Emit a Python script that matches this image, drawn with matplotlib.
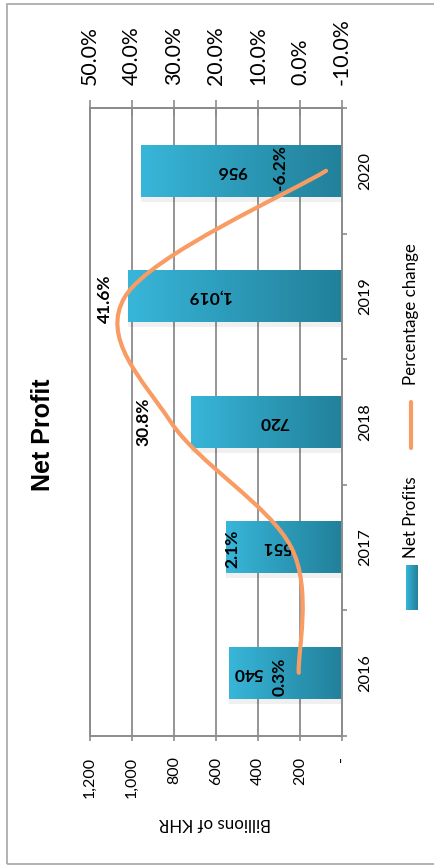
import matplotlib
matplotlib.use("Agg")
import matplotlib.pyplot as plt
import numpy as np
from matplotlib.colors import LinearSegmentedColormap
from matplotlib.path import Path
from matplotlib.patches import PathPatch, Rectangle
from matplotlib.lines import Line2D
from matplotlib.ticker import FixedLocator

plt.rcParams['font.family'] = ['Lato', 'DejaVu Sans']

# Данные
years = ["2016", "2017", "2018", "2019", "2020"]
net_profit = [540, 551, 720, 1019, 956]          # млрд KHR
pct_change = [0.3, 2.1, 30.8, 41.6, -6.2]        # %
value_ticks = [0, 200, 400, 600, 800, 1000, 1200]
value_tick_labels = ["-", "200", "400", "600", "800", "1,000", "1,200"]
pct_ticks = [-10, 0, 10, 20, 30, 40, 50]

# Сдвиги подписей (в пикселях экрана)
bar_label_dx = [-37, -7, 8, -26, -10]
pct_label_off = [(-19, -4), (-59, -2), (-27, 0), (-20, -2), (-46, 3)]

GRID = "#8c8c8c"
ORANGE = "#f89c64"
bar_cmap = LinearSegmentedColormap.from_list("bar", ["#38b6da", "#2c9ab8", "#22809a"])
grad = np.linspace(0, 1, 256).reshape(1, -1)


def smooth_path(xs, ys):
    """Сглаженная линия (кубические Безье по схеме Катмулла-Рома)."""
    pts = np.column_stack([xs, ys])
    ext = np.vstack([pts[0], pts, pts[-1]])
    verts = [pts[0]]
    codes = [Path.MOVETO]
    for i in range(len(pts) - 1):
        p0, p1, p2, p3 = ext[i], ext[i + 1], ext[i + 2], ext[i + 3]
        c1 = p1 + (p2 - p0) / 6
        c2 = p2 - (p3 - p1) / 6
        verts += [c1, c2, p2]
        codes += [Path.CURVE4] * 3
    return Path(verts, codes)


fig = plt.figure(figsize=(4.35, 8.65), dpi=100)
ax = fig.add_axes([0.2069, 0.1497, 0.5793, 0.7254])
ypos = np.arange(len(years))
bar_h = 0.414

# Столбцы с градиентом
for y, v in zip(ypos, net_profit):
    ax.add_patch(Rectangle((v, y - bar_h / 2 - 0.04), -v - 6, bar_h,
                           facecolor="#000000", alpha=0.06, lw=0, zorder=1.5))
    ax.imshow(grad, cmap=bar_cmap, aspect="auto", zorder=2,
              extent=(v, 0, y - bar_h / 2, y + bar_h / 2))

for y, v, dx in zip(ypos, net_profit, bar_label_dx):
    ax.annotate(f"{v:,}", (v / 2, y), xytext=(dx, 0), textcoords="offset pixels",
                rotation=180, ha="center", va="center", fontsize=12.5,
                fontweight="bold", zorder=5)

ax.set_xlim(1200, 0)
ax.set_ylim(-0.5, len(years) - 0.5)

ax.xaxis.set_major_locator(FixedLocator(value_ticks))
ax.set_xticklabels(value_tick_labels, rotation=90, fontsize=11.5)
ax.tick_params(axis="x", direction="out", length=3.6, width=1.2, color=GRID, pad=11.5)
ax.grid(axis="x", color=GRID, lw=1.3, zorder=0)
ax.set_axisbelow(True)

ax.yaxis.tick_right()
ax.set_yticks(ypos)
ax.set_yticklabels(years, rotation=90, fontsize=11.7, va="center")
ax.tick_params(axis="y", which="major", length=0, pad=11.5)
ax.yaxis.set_minor_locator(FixedLocator(np.arange(-0.5, len(years), 1.0)))
ax.tick_params(axis="y", which="minor", direction="out", length=3.6, width=1.2, color=GRID)

for side in ["left", "right", "bottom", "top"]:
    ax.spines[side].set_color(GRID)
    ax.spines[side].set_linewidth(1.4)

# Процентное изменение на второй оси
ax2 = ax.twiny()
ax2.set_xlim(50, -10)
ax2.set_ylim(-0.5, len(years) - 0.5)
ax2.xaxis.set_major_locator(FixedLocator(pct_ticks))
ax2.set_xticklabels([f"{t:.1f}%" for t in pct_ticks], rotation=90, fontsize=15.3)
ax2.tick_params(axis="x", direction="inout", length=11.5, width=1.2, color=GRID, pad=10.8)
for side in ["left", "right", "bottom", "top"]:
    ax2.spines[side].set_visible(False)
ax2.spines["top"].set_visible(True)
ax2.spines["top"].set_color(GRID)
ax2.spines["top"].set_linewidth(1.4)

ax2.add_patch(PathPatch(smooth_path(pct_change, ypos), facecolor="none",
                        edgecolor=ORANGE, lw=3, capstyle="round", zorder=4))

for y, p, (dx, dy) in zip(ypos, pct_change, pct_label_off):
    ax2.annotate(f"{p:.1f}%", (p, y), xytext=(dx, dy), textcoords="offset pixels",
                 rotation=90, ha="center", va="center", fontsize=12.5,
                 fontweight="bold", zorder=5)

# Заголовок и подпись оси
fig.text(0.0989, 0.4971, "Net Profit", rotation=90, ha="center", va="center",
         fontsize=18, fontweight="bold", family="Liberation Sans")
fig.text(0.4943, 0.0486, "Billions of KHR", rotation=180, ha="center", va="center",
         fontsize=12.2)

# Легенда
lax = fig.add_axes([0.9333, 0.2948, 0.0253, 0.052])
lax.imshow(grad, cmap=bar_cmap, aspect="auto")
lax.axis("off")
fig.text(0.9448, 0.3549, "Net Profits", rotation=90, ha="center", va="bottom", fontsize=12.2)
fig.add_artist(Line2D([0.9448, 0.9448], [0.4821, 0.5353], color=ORANGE, lw=3,
                      solid_capstyle="round", transform=fig.transFigure))
fig.text(0.9448, 0.5549, "Percentage change", rotation=90, ha="center", va="bottom",
         fontsize=12.2)

# Рамка области диаграммы
fig.add_artist(Rectangle((0.0161, 0.0017), 1.2, 0.9937, transform=fig.transFigure,
                         facecolor="none", edgecolor="#a6a6a6", lw=1.2))

fig.savefig("out.png", dpi=100)
